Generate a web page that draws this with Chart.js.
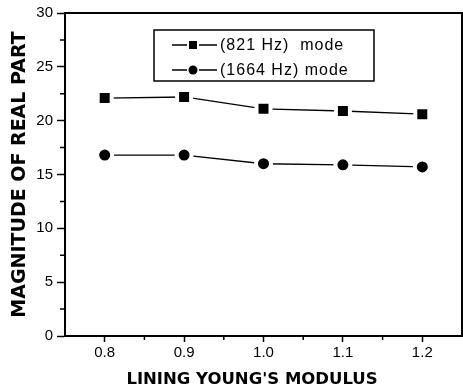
<!DOCTYPE html>
<html>
<head>
<meta charset="utf-8">
<script src="https://cdn.jsdelivr.net/npm/chart.js@4"></script>
<style>
  html, body { margin: 0; padding: 0; background: #fff; }
</style>
</head>
<body>
<canvas id="modeChart" width="463" height="390"></canvas>
<script>
// Lining Young's modulus vs magnitude of real part
const modulus = ["0.8", "0.9", "1.0", "1.1", "1.2"];
const mode821 = [22.1, 22.2, 21.1, 20.9, 20.6];
const mode1664 = [16.8, 16.8, 16.0, 15.9, 15.7];
const seriesLabels = ["(821 Hz)  mode", "(1664 Hz) mode"];
const yTicks = [0, 5, 10, 15, 20, 25, 30];

Chart.defaults.font.family = "'Liberation Sans', Arial, sans-serif";
Chart.defaults.color = "#000";

/* frame on top/right + minor ticks ------------------------ */
const frameAndMinor = {
  id: "frameAndMinor",
  afterDraw(chart) {
    const { ctx, chartArea: a, scales } = chart;
    ctx.save();
    ctx.strokeStyle = "#000";
    ctx.lineWidth = 2;
    ctx.beginPath();
    ctx.moveTo(a.left, a.top);
    ctx.lineTo(a.right, a.top);
    ctx.lineTo(a.right, a.bottom);
    ctx.stroke();

    ctx.lineWidth = 1.5;
    ctx.beginPath();
    for (let i = 0; i < yTicks.length - 1; i++) {
      const y = scales.y.getPixelForValue((yTicks[i] + yTicks[i + 1]) / 2);
      ctx.moveTo(a.left - 5, y);
      ctx.lineTo(a.left, y);
    }
    for (let i = 0; i < modulus.length - 1; i++) {
      const x = (scales.x.getPixelForValue(i) + scales.x.getPixelForValue(i + 1)) / 2;
      ctx.moveTo(x, a.bottom);
      ctx.lineTo(x, a.bottom + 4);
    }
    ctx.stroke();
    ctx.restore();
  },
};

/* boxed legend inside the plot ---------------------------- */
const boxLegend = {
  id: "boxLegend",
  afterDraw(chart) {
    const { ctx, chartArea: a } = chart;
    const left = a.left + 89, top = a.top + 17, w = 220, h = 51;
    ctx.save();
    ctx.strokeStyle = "#000";
    ctx.lineWidth = 1.5;
    ctx.strokeRect(left, top, w, h);

    chart.data.datasets.forEach((ds, i) => {
      const y = top + 15 + i * 25;
      const cx = left + 39;
      ctx.lineWidth = 1.5;
      ctx.beginPath();
      ctx.moveTo(left + 18, y);
      ctx.lineTo(cx - 6, y);
      ctx.moveTo(cx + 6, y);
      ctx.lineTo(left + 63, y);
      ctx.stroke();
      ctx.fillStyle = "#000";
      if (ds.pointStyle === "rect") {
        ctx.fillRect(cx - 4, y - 4, 8, 8);
      } else {
        ctx.beginPath();
        ctx.arc(cx, y, 4.5, 0, Math.PI * 2);
        ctx.fill();
      }
      ctx.font = "16px 'Liberation Sans', Arial, sans-serif";
      ctx.letterSpacing = "1px";
      ctx.textBaseline = "middle";
      ctx.fillText(ds.label, left + 66, y + 1);
    });
    ctx.restore();
  },
};

const ctx = document.getElementById("modeChart").getContext("2d");
new Chart(ctx, {
  type: "line",
  data: {
    labels: modulus,
    datasets: [
      {
        label: seriesLabels[0],
        data: mode821,
        borderColor: "#000",
        borderWidth: 1.3,
        pointStyle: "rect",
        pointRadius: 9.9,
        pointBackgroundColor: "#000",
        pointBorderColor: "#fff",
        pointBorderWidth: 4,
      },
      {
        label: seriesLabels[1],
        data: mode1664,
        borderColor: "#000",
        borderWidth: 1.3,
        pointStyle: "circle",
        pointRadius: 7.5,
        pointBackgroundColor: "#000",
        pointBorderColor: "#fff",
        pointBorderWidth: 4,
      },
    ],
  },
  options: {
    responsive: false,
    animation: false,
    layout: { autoPadding: false, padding: { top: 12, right: 1, left: 0, bottom: 0 } },
    scales: {
      x: {
        offset: true,
        afterFit: (s) => {
          s.height = 54;
          s.paddingLeft = 0;
          s.paddingRight = 0;
        },
        grid: {
          drawOnChartArea: false,
          tickLength: 6,
          tickWidth: 1.5,
          tickColor: "#000",
          offset: false,
        },
        border: { display: true, color: "#000", width: 2 },
        ticks: { padding: 2, font: { size: 15 } },
        title: {
          display: true,
          text: "LINING YOUNG'S MODULUS    ",
          font: { family: "'DejaVu Sans', sans-serif", size: 16.5, weight: "bold" },
          padding: { top: 0, bottom: 0 },
        },
      },
      y: {
        min: 0,
        max: 30,
        afterFit: (s) => { s.width = 65; },
        afterBuildTicks: (s) => { s.ticks = yTicks.map((v) => ({ value: v })); },
        grid: {
          drawOnChartArea: false,
          tickLength: 8,
          tickWidth: 1.5,
          tickColor: "#000",
        },
        border: { display: true, color: "#000", width: 2 },
        ticks: { padding: 4, font: { size: 15 } },
        title: {
          display: true,
          text: "MAGNITUDE OF REAL PART",
          font: { family: "'DejaVu Sans', sans-serif", size: 19, weight: "bold" },
          padding: { top: 9, bottom: 0 },
        },
      },
    },
    plugins: {
      legend: { display: false },
      tooltip: { enabled: false },
    },
  },
  plugins: [frameAndMinor, boxLegend],
});
</script>
</body>
</html>
